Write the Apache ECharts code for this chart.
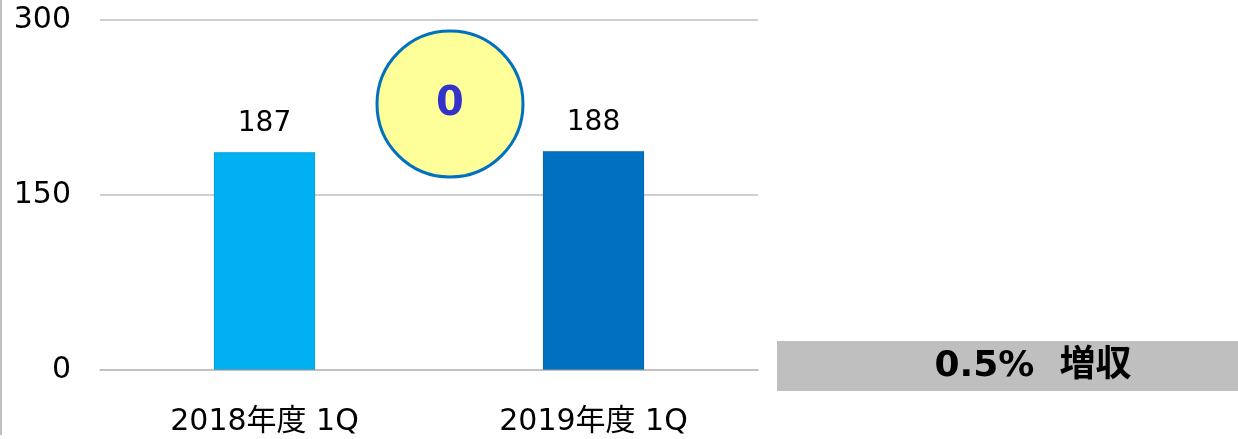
<!DOCTYPE html>
<html>
<head>
<meta charset="utf-8">
<script src="https://cdn.jsdelivr.net/npm/echarts@6/dist/echarts.min.js"></script>
<style>
  html, body { margin: 0; padding: 0; background: #fff; }
  #chart { width: 1238px; height: 439px; }
</style>
</head>
<body>
<div id="chart"></div>
<script>
const categories = ["2018年度 1Q", "2019年度 1Q"];
const values = [187, 188];
const barColors = ["#00B0F0", "#0070C0"];
const diffText = "0";
const growthText = "0.5%  増収";

const fontFamily = "'DejaVu Sans', 'Noto Sans CJK JP', sans-serif";

const chart = echarts.init(document.getElementById("chart"));

const option = {
  animation: false,
  grid: { left: 100, right: 480, top: 20, bottom: 69 },
  xAxis: {
    type: "category",
    data: categories,
    axisLine: { lineStyle: { color: "#BFBFBF", width: 1.5 } },
    axisTick: { show: false },
    axisLabel: { color: "#000", fontSize: 30, margin: 37, fontFamily: fontFamily }
  },
  yAxis: {
    type: "value",
    min: 0,
    max: 300,
    interval: 150,
    axisLine: { show: false },
    axisTick: { show: false },
    axisLabel: { color: "#000", fontSize: 30, margin: 29, fontFamily: fontFamily },
    splitLine: { lineStyle: { color: "#BFBFBF", width: 1.5 } }
  },
  series: [{
    type: "bar",
    barWidth: "31%",
    data: values.map((v, i) => ({
      value: v,
      itemStyle: { color: barColors[i], borderColor: "rgba(0,0,0,0.12)", borderWidth: 1 }
    })),
    label: {
      show: true,
      position: "top",
      distance: 14,
      color: "#000",
      fontSize: 28,
      fontFamily: fontFamily
    }
  }],
  graphic: [
    {
      // left border line
      type: "line",
      shape: { x1: 1, y1: 0, x2: 1, y2: 435 },
      style: { stroke: "#BFBFBF", lineWidth: 2 }
    },
    {
      type: "circle",
      shape: { cx: 450, cy: 104, r: 73 },
      style: { fill: "#FFFF99", stroke: "#0070C0", lineWidth: 3 },
      z: 10
    },
    {
      type: "text",
      x: 450,
      y: 105,
      style: {
        text: diffText,
        fill: "#3333CC",
        font: "bold 40px " + fontFamily,
        textAlign: "center",
        textVerticalAlign: "middle"
      },
      z: 11
    },
    {
      type: "rect",
      shape: { x: 777, y: 341, width: 461, height: 50 },
      style: { fill: "#BFBFBF" }
    },
    {
      type: "text",
      x: 1033,
      y: 367,
      style: {
        text: growthText,
        fill: "#000",
        font: "bold 36px " + fontFamily,
        textAlign: "center",
        textVerticalAlign: "middle"
      }
    }
  ]
};

chart.setOption(option);
</script>
</body>
</html>
